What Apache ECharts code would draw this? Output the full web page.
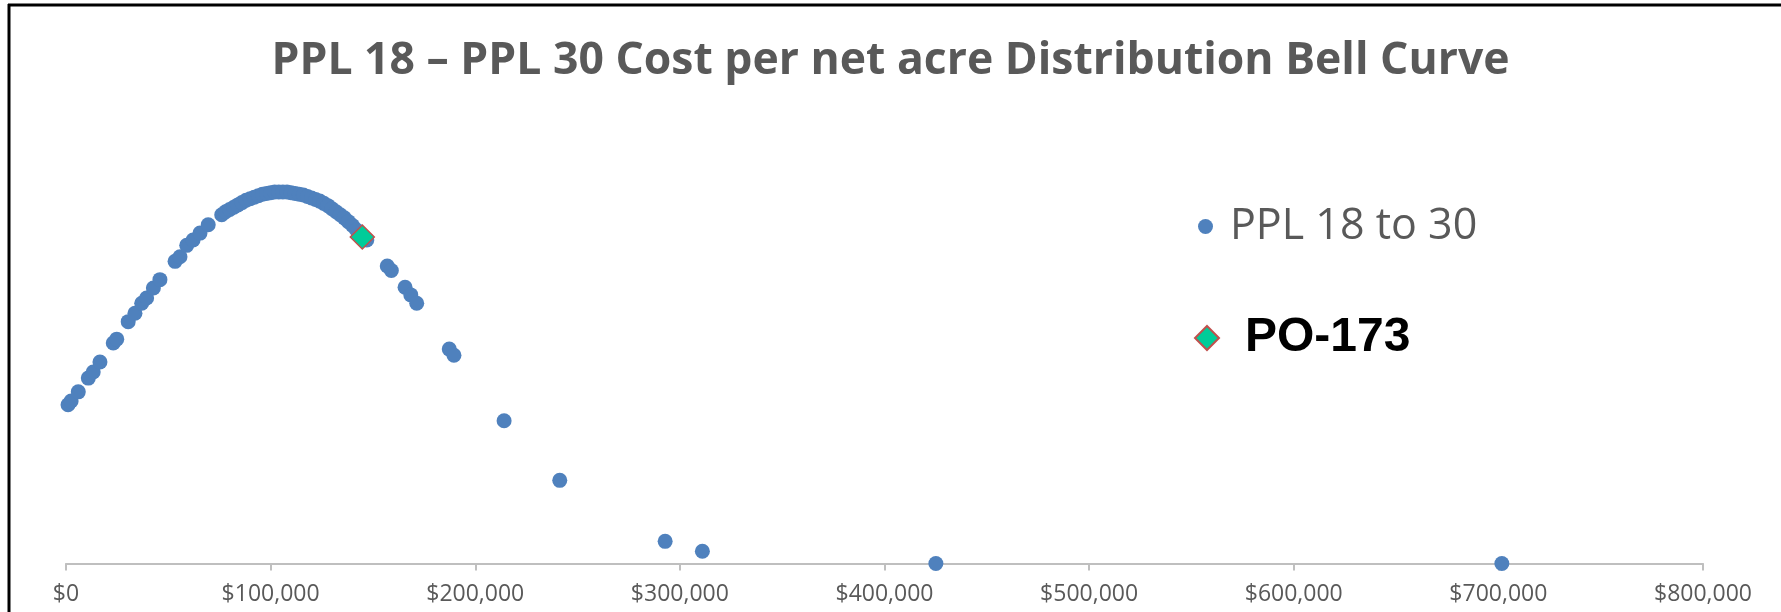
<!DOCTYPE html>
<html>
<head>
<meta charset="utf-8">
<script src="https://cdn.jsdelivr.net/npm/echarts@6/dist/echarts.min.js"></script>
<style>
html,body{margin:0;padding:0;background:#fff;}
#chart{width:1781px;height:612px;}
</style>
</head>
<body>
<div id="chart"></div>
<script>
// Cost per net acre ($) for PPL 18 to 30 points
var pplCost = [1000, 2500, 6000, 10900, 13300, 16600, 23100, 24800, 30400, 33700, 37000, 39400, 42700, 45900,
  53300, 55700, 59000, 62100, 65500, 69500, 76100, 78000, 80000, 82000, 84000, 86000, 88000, 90000, 92000,
  94000, 96000, 98000, 100000, 102000, 104000, 106000, 108000, 110000, 112000, 114000, 116000, 118000,
  120000, 122000, 124000, 126000, 128000, 130000, 132000, 134000, 136000, 138000, 140000, 142000, 144000,
  147000, 157000, 159000, 165700, 168500, 171400, 187300, 189600, 214100, 241300, 292800, 311000, 425100, 701700];
// Bell curve density (x 1e-6)
var pplDensity = [2.08, 2.13, 2.25, 2.43, 2.51, 2.64, 2.89, 2.94, 3.17, 3.28, 3.41, 3.48, 3.61, 3.72,
  3.96, 4.02, 4.17, 4.24, 4.33, 4.44, 4.57, 4.61, 4.64, 4.67, 4.70, 4.73, 4.76, 4.78, 4.80,
  4.82, 4.84, 4.85, 4.86, 4.87, 4.87, 4.87, 4.87, 4.86, 4.85, 4.84, 4.83, 4.81,
  4.79, 4.77, 4.75, 4.72, 4.69, 4.65, 4.61, 4.57, 4.53, 4.48, 4.43, 4.37, 4.31,
  4.24, 3.90, 3.84, 3.62, 3.52, 3.41, 2.81, 2.73, 1.87, 1.09, 0.29, 0.16, 0.00, 0.00];
var poCost = [144800];
var poDensity = [4.28];
var xTicks = [0, 100000, 200000, 300000, 400000, 500000, 600000, 700000, 800000];
var xTickLabels = ['$0', '$100,000', '$200,000', '$300,000', '$400,000', '$500,000', '$600,000', '$700,000', '$800,000'];
var titleText = 'PPL 18 \u2013 PPL 30 Cost per net acre Distribution Bell Curve';
var seriesNames = ['PPL 18 to 30', 'PO-173'];

function pairs(xs, ys) {
  var out = [];
  for (var i = 0; i < xs.length; i++) out.push([xs[i], ys[i]]);
  return out;
}

var chart = echarts.init(document.getElementById('chart'), null, {renderer: 'canvas'});
chart.setOption({
  animation: false,
  backgroundColor: '#ffffff',
  title: {
    text: titleText,
    left: 'center',
    top: 34,
    padding: [5, 5, 5, 19],
    textStyle: {fontFamily: 'Open Sans', fontWeight: 'bold', fontSize: 44.5, color: '#595959'}
  },
  legend: [
    {
      data: [seriesNames[0]],
      orient: 'vertical',
      left: 1198,
      top: 205,
      padding: 0,
      itemWidth: 15,
      itemHeight: 15,
      textStyle: {fontFamily: 'Open Sans', fontSize: 43, color: '#595959', padding: [0, 0, 0, 12]}
    },
    {
      data: [seriesNames[1]],
      orient: 'vertical',
      left: 1194,
      top: 314,
      padding: 0,
      itemWidth: 24,
      itemHeight: 24,
      textStyle: {fontFamily: 'Liberation Sans', fontWeight: 'bold', fontSize: 48, color: '#000000', padding: [4, 0, 0, 21]}
    }
  ],
  grid: {left: 66, right: 78, top: 105.7, bottom: 48.5, containLabel: false},
  xAxis: {
    type: 'value',
    min: 0,
    max: 800000,
    interval: 100000,
    axisLine: {show: true, lineStyle: {color: '#BFBFBF', width: 2}},
    axisTick: {show: true, length: 7, inside: false, lineStyle: {color: '#BFBFBF', width: 2}},
    splitLine: {show: false},
    axisLabel: {
      margin: 19,
      fontFamily: 'Open Sans',
      fontSize: 23,
      color: '#595959',
      formatter: function (v) {
        var i = xTicks.indexOf(v);
        return i >= 0 ? xTickLabels[i] : '';
      }
    }
  },
  yAxis: {
    type: 'value',
    min: 0,
    max: 6,
    show: false
  },
  series: [
    {
      name: seriesNames[0],
      type: 'scatter',
      symbol: 'circle',
      symbolSize: 15,
      itemStyle: {color: '#4F81BD', opacity: 1},
      data: pairs(pplCost, pplDensity),
      z: 2
    },
    {
      name: seriesNames[1],
      type: 'scatter',
      symbol: 'diamond',
      symbolSize: 24,
      itemStyle: {color: '#00CC99', borderColor: '#C0504D', borderWidth: 1.5, opacity: 1},
      data: pairs(poCost, poDensity),
      z: 3
    }
  ],
  graphic: [
    {type: 'line', shape: {x1: 8, y1: 5, x2: 1781, y2: 5}, style: {stroke: '#000', lineWidth: 3}, silent: true},
    {type: 'line', shape: {x1: 9, y1: 4, x2: 9, y2: 612}, style: {stroke: '#000', lineWidth: 3}, silent: true}
  ]
});
</script>
</body>
</html>
